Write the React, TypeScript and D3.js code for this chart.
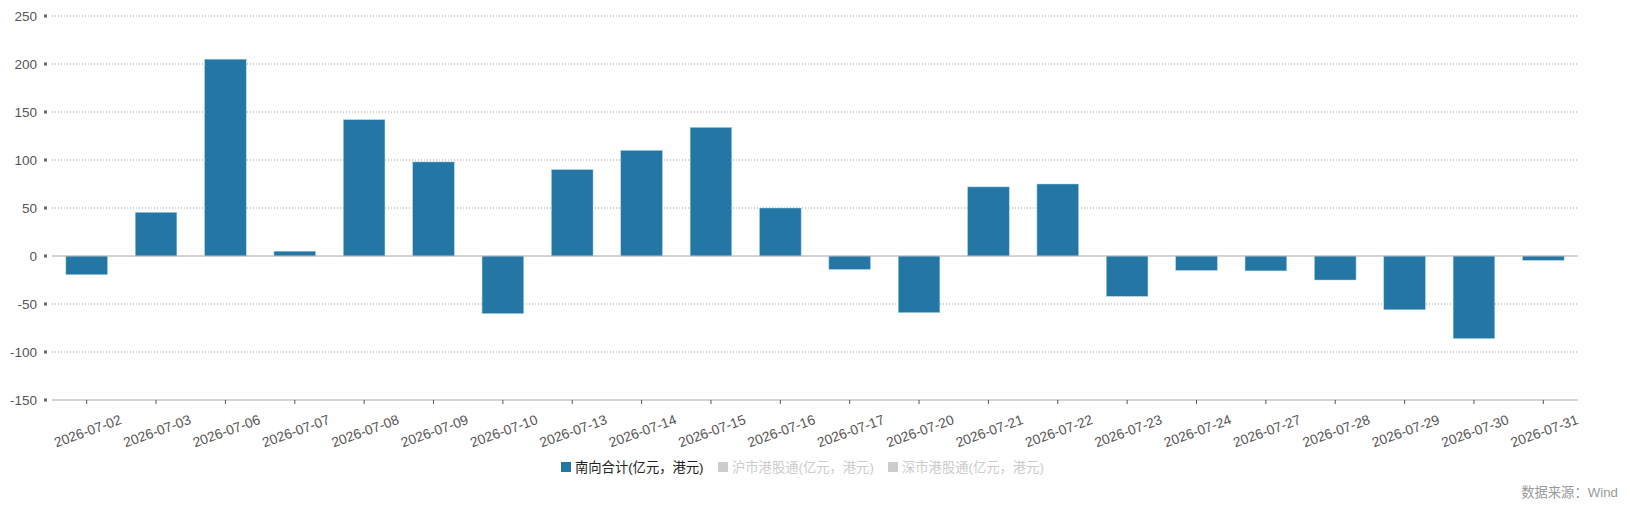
import React from "react";
import * as d3 from "d3";

const categories = [
  "2026-07-02", "2026-07-03", "2026-07-06", "2026-07-07", "2026-07-08", "2026-07-09",
  "2026-07-10", "2026-07-13", "2026-07-14", "2026-07-15", "2026-07-16", "2026-07-17",
  "2026-07-20", "2026-07-21", "2026-07-22", "2026-07-23", "2026-07-24", "2026-07-27",
  "2026-07-28", "2026-07-29", "2026-07-30", "2026-07-31",
];
const southTotal = [
  -19.5, 45.5, 205, 5, 142, 98, -60, 90, 110, 134, 50, -14,
  -59, 72, 75, -42, -15, -15.5, -25, -56, -86, -4.5,
];
const yTicks = [250, 200, 150, 100, 50, 0, -50, -100, -150];
const legendItems = [
  { name: "南向合计(亿元，港元)", active: true },
  { name: "沪市港股通(亿元，港元)", active: false },
  { name: "深市港股通(亿元，港元)", active: false },
];
const sourceText = "数据来源：Wind";

const W = 1630;
const H = 506;
const M = { left: 52, right: 52, top: 16, bottom: 106 };
const BAR = "#2477a4";
const FONT = "'Liberation Sans', Arial, 'Noto Sans CJK SC', sans-serif";

export default function App() {
  const x = d3
    .scaleBand<string>()
    .domain(categories)
    .range([M.left, W - M.right])
    .paddingInner(0.4)
    .paddingOuter(0.2);
  const y = d3.scaleLinear().domain([-150, 250]).range([H - M.bottom, M.top]);
  const y0 = y(0);
  const bottom = y(-150);

  const legendX = [561, 718, 888];

  return (
    <div style={{ position: "fixed", left: 0, top: 0 }}>
      <svg width={W} height={H} style={{ display: "block", fontFamily: FONT }}>
        <rect width={W} height={H} fill="#fff" />
        {yTicks.map((t) => (
          <g key={t}>
            {t !== -150 && t !== 0 && (
              <line
                x1={M.left}
                x2={W - M.right}
                y1={y(t)}
                y2={y(t)}
                stroke="#999"
                strokeWidth={1}
                strokeDasharray="1,2"
              />
            )}
            <rect x={44} y={y(t) - 1.5} width={3} height={3} fill="#666" />
            <text
              x={37}
              y={y(t)}
              dy="0.35em"
              textAnchor="end"
              fontSize={13.5}
              fill="#555"
            >
              {t}
            </text>
          </g>
        ))}
        {categories.map((c, i) => {
          const v = southTotal[i];
          return (
            <rect
              key={c}
              x={x(c)}
              y={Math.min(y(v), y0)}
              width={x.bandwidth()}
              height={Math.abs(y(v) - y0)}
              fill={BAR}
              stroke="#a9d3e8"
              strokeWidth={0.5}
            />
          );
        })}
        <line x1={M.left} x2={W - M.right} y1={y0} y2={y0} stroke="#aaa" strokeWidth={1.2} />
        <line x1={M.left} x2={W - M.right} y1={bottom} y2={bottom} stroke="#aaa" strokeWidth={1.2} />
        {categories.map((c) => {
          const cx = (x(c) as number) + x.bandwidth() / 2;
          return (
            <g key={c}>
              <line x1={cx} x2={cx} y1={bottom} y2={bottom + 4} stroke="#555" strokeWidth={1} />
              <text
                transform={`translate(${cx + 1},${bottom + 31}) rotate(-20)`}
                textAnchor="middle"
                dy="0.35em"
                fontSize={13.8}
                fill="#555"
              >
                {c}
              </text>
            </g>
          );
        })}
        {legendItems.map((l, i) => (
          <g key={l.name}>
            <rect
              x={legendX[i]}
              y={462}
              width={10}
              height={10}
              fill={l.active ? BAR : "#ccc"}
            />
            <text
              x={legendX[i] + 14}
              y={467}
              dy="0.35em"
              fontSize={13.3}
              fill={l.active ? "#222" : "#ccc"}
            >
              {l.name}
            </text>
          </g>
        ))}
        <text x={1618} y={497} textAnchor="end" fontSize={13.3} fill="#999">
          {sourceText}
        </text>
      </svg>
    </div>
  );
}
